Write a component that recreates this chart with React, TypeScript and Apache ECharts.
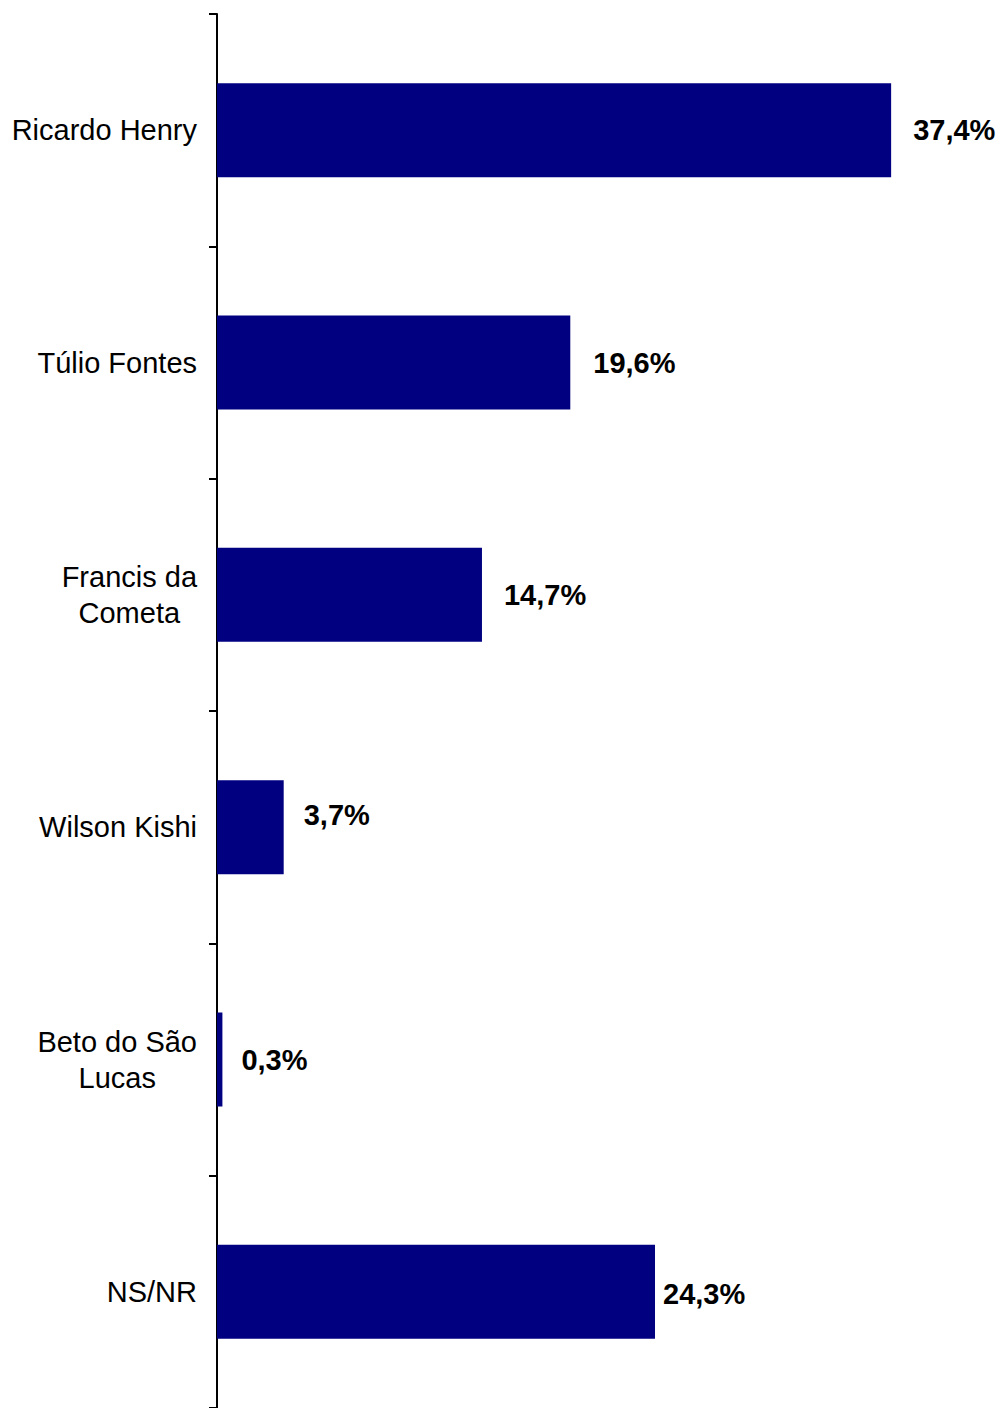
import React, { useEffect, useRef } from "react";
import * as echarts from "echarts";

const categories = [
  "Ricardo Henry",
  "Túlio Fontes",
  "Francis da\nCometa",
  "Wilson Kishi",
  "Beto do São\nLucas",
  "NS/NR",
];
const values = [37.4, 19.6, 14.7, 3.7, 0.3, 24.3];
const labelShift: [number, number][] = [
  [0, 0],
  [1, 0],
  [0, 0],
  [-2, -12],
  [-3, 0],
  [-14, 2],
];

export default function App() {
  const ref = useRef<HTMLDivElement>(null);
  useEffect(() => {
    if (!ref.current) return;
    const chart = echarts.init(ref.current, null, { renderer: "svg" });
    chart.setOption({
      animation: false,
      backgroundColor: "#ffffff",
      grid: { left: 217, top: 14, width: 721, height: 1397, containLabel: false },
      xAxis: {
        type: "value",
        min: 0,
        max: 40,
        show: false,
      },
      yAxis: {
        type: "category",
        inverse: true,
        data: categories,
        axisLine: { show: true, lineStyle: { color: "#000", width: 2 } },
        axisTick: { show: true, length: 8, lineStyle: { color: "#000", width: 2 } },
        axisLabel: {
          margin: 20,
          fontFamily: "Liberation Sans, Arial, sans-serif",
          fontSize: 29,
          color: "#000",
          lineHeight: 36,
          formatter: (v: string) =>
            v
              .split("\n")
              .map((s) => "{c|" + s + "}")
              .join("\n"),
          rich: {
            c: {
              align: "center",
              fontFamily: "Liberation Sans, Arial, sans-serif",
              fontSize: 29,
              color: "#000",
              lineHeight: 36,
            },
          },
        },
        splitLine: { show: false },
      },
      series: [
        {
          type: "bar",
          data: values.map((v, i) => ({
            value: v,
            label: { offset: labelShift[i] },
          })),
          barWidth: 94,
          itemStyle: { color: "#000080" },
          label: {
            show: true,
            position: "right",
            distance: 22,
            fontFamily: "Liberation Sans, Arial, sans-serif",
            fontSize: 29,
            fontWeight: "bold",
            color: "#000",
            formatter: (p: any) => p.value.toFixed(1).replace(".", ",") + "%",
          },
        },
      ],
    });
    return () => chart.dispose();
  }, []);
  return (
    <div
      ref={ref}
      style={{ position: "absolute", left: 0, top: 0, width: 998, height: 1408, background: "#fff" }}
    />
  );
}
